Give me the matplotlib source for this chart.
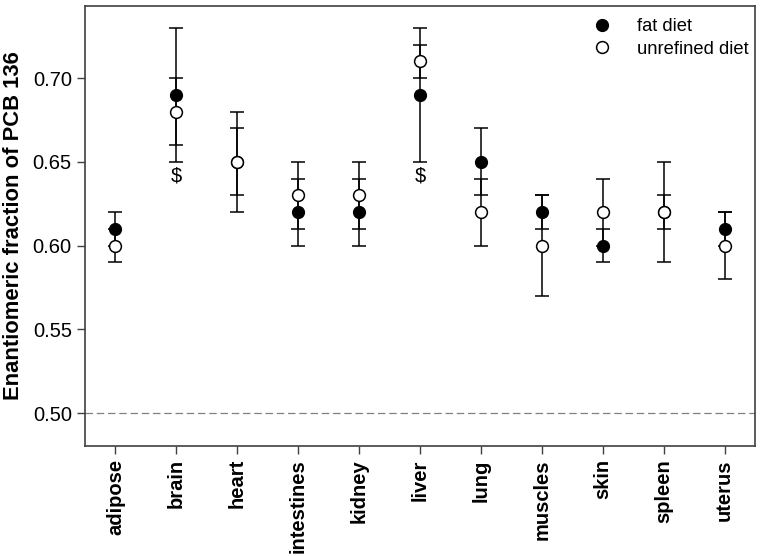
import numpy as np
import matplotlib
matplotlib.use("Agg")
from matplotlib import pyplot as plt

plt.rcParams['font.family'] = ['Liberation Sans', 'DejaVu Sans']

tissues = ["adipose", "brain", "heart", "intestines", "kidney", "liver",
           "lung", "muscles", "skin", "spleen", "uterus"]
fat_mean = [0.61, 0.69, 0.65, 0.62, 0.62, 0.69, 0.65, 0.62, 0.60, 0.62, 0.61]
fat_err = [0.01, 0.04, 0.02, 0.02, 0.02, 0.04, 0.02, 0.01, 0.01, 0.01, 0.01]
unref_mean = [0.60, 0.68, 0.65, 0.63, 0.63, 0.71, 0.62, 0.60, 0.62, 0.62, 0.60]
unref_err = [0.01, 0.02, 0.03, 0.02, 0.02, 0.01, 0.02, 0.03, 0.02, 0.03, 0.02]
sig_marks = ["", "$", "", "", "", "$", "", "", "", "", ""]

x = np.arange(len(tissues))

fig = plt.figure(figsize=(7.63, 5.56), dpi=100)
ax = fig.add_axes([0.1114, 0.1978, 0.8781, 0.7914])

ax.axhline(0.50, color="#808080", ls=(0, (6, 3)), lw=0.9, zorder=1)

ax.errorbar(x, fat_mean, yerr=fat_err, fmt="o", color="black", mfc="black",
            mec="black", ms=8.5, capsize=5, elinewidth=1.1, capthick=1.1,
            label="fat diet", zorder=3)
ax.errorbar(x, unref_mean, yerr=unref_err, fmt="o", color="black", mfc="white",
            mec="black", mew=1.1, ms=8.5, capsize=5, elinewidth=1.1, capthick=1.1,
            label="unrefined diet", zorder=4)

# significance markers below the lowest whisker
for i, s in enumerate(sig_marks):
    if s:
        low = min(fat_mean[i] - fat_err[i], unref_mean[i] - unref_err[i])
        ax.text(x[i], low - 0.003, s, ha="center", va="top", fontsize=14.5)

ax.set_xlim(-0.5, 10.5)
ax.set_ylim(0.4803, 0.743)
ax.set_yticks([0.50, 0.55, 0.60, 0.65, 0.70])
ax.set_yticklabels(["0.50", "0.55", "0.60", "0.65", "0.70"], fontsize=14.5)
ax.set_xticks(x)
ax.set_xticklabels(tissues, rotation=90, fontsize=14.5, fontweight="bold")
ax.set_ylabel("Enantiomeric fraction of PCB 136", fontsize=15.8, fontweight="bold")
ax.yaxis.set_label_coords(-0.091, 0.5)
ax.tick_params(direction="out", length=6, width=1, color="#404040")

for sp in ax.spines.values():
    sp.set_color("#404040")
    sp.set_linewidth(1.2)

handles, labels = ax.get_legend_handles_labels()
handles = [h[0] for h in handles]
ax.legend(handles, labels, loc="upper right", bbox_to_anchor=(1.008, 1.0),
          frameon=False, fontsize=13.2, handletextpad=1.4, borderaxespad=0.25,
          labelspacing=0.32, handlelength=1.0)

fig.savefig("out.png", dpi=100)
